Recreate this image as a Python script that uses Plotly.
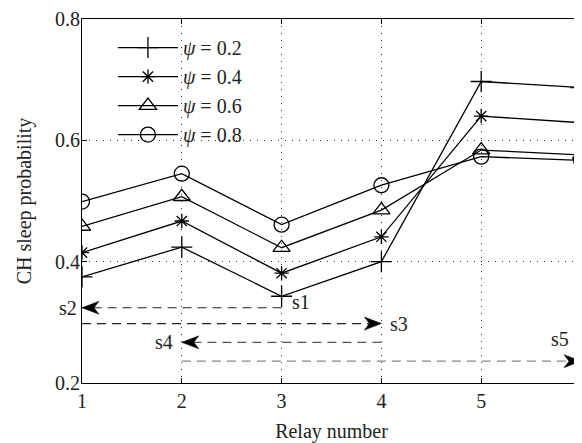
import plotly.graph_objects as go

relay = [1, 2, 3, 4, 5, 6]
psi_labels = ["0.2", "0.4", "0.6", "0.8"]
psi_02 = [0.375, 0.424, 0.343, 0.400, 0.697, 0.687]
psi_04 = [0.415, 0.467, 0.381, 0.441, 0.640, 0.629]
psi_06 = [0.458, 0.507, 0.423, 0.485, 0.584, 0.576]
psi_08 = [0.499, 0.545, 0.461, 0.526, 0.573, 0.567]
series = [psi_02, psi_04, psi_06, psi_08]
symbols = ["cross-thin-open", "asterisk-open", "triangle-up-open", "circle-open"]
sizes = [15, 12, 15, 15]

arrow_labels = ["s2", "s3", "s4", "s5"]
arrow_y = [0.324, 0.298, 0.267, 0.236]
arrow_from = [3, 1, 4, 2]
arrow_to = [1, 4, 2, 6]
arrow_colors = ["#222222", "#222222", "#555555", "#888888"]

FONT = "'Liberation Serif', 'Times New Roman', Times, serif"
fig = go.Figure()

for vals, lab, sym, sz in zip(series, psi_labels, symbols, sizes):
    fig.add_trace(go.Scatter(
        x=relay, y=vals, mode="lines+markers",
        name="<i>ψ</i> = " + lab,
        line=dict(color="black", width=1.3),
        marker=dict(symbol=sym, size=sz, color="black", line=dict(width=1.3, color="black")),
    ))

# arrowhead geometry in pixels (length, half-height, notch depth)
HEAD_L, HEAD_H, NOTCH = 17, 6.5, 5

shapes = []
for lab, y, x0, x1, c in zip(arrow_labels, arrow_y, arrow_from, arrow_to, arrow_colors):
    fig.add_trace(go.Scatter(
        x=[x0, x1], y=[y, y], mode="lines", showlegend=False, hoverinfo="skip",
        line=dict(color=c, width=1.2, dash="9px,6px"),
    ))
    d = 1 if x1 > x0 else -1  # +1: points right
    path = (f"M0,0 L{-d*HEAD_L},{HEAD_H} L{-d*(HEAD_L-NOTCH)},0 "
            f"L{-d*HEAD_L},{-HEAD_H} Z")
    shapes.append(dict(
        type="path", xref="x", yref="y", xsizemode="pixel", ysizemode="pixel",
        xanchor=x1, yanchor=y, path=path,
        fillcolor="black", line=dict(color="black", width=0.5), layer="above",
    ))

annotations = []
label_pos = {
    "s1": dict(x=3, y=0.334, xanchor="left", xshift=8),
    "s2": dict(x=1, y=arrow_y[0], xanchor="right", xshift=-3),
    "s3": dict(x=4, y=arrow_y[1], xanchor="left", xshift=7),
    "s4": dict(x=2, y=arrow_y[2], xanchor="right", xshift=-7),
    "s5": dict(x=6, y=0.273, xanchor="right", xshift=-10),
}
for t, p in label_pos.items():
    annotations.append(dict(text=t, xref="x", yref="y", showarrow=False,
                            yanchor="middle", font=dict(family=FONT, size=20, color="#222"), **p))

axis_common = dict(
    showline=True, linecolor="black", linewidth=1.2, mirror="ticks",
    ticks="inside", ticklen=5, tickcolor="black",
    showgrid=True, gridcolor="#333333", gridwidth=1, griddash="1px,6px",
    zeroline=False,
    tickfont=dict(family=FONT, size=20, color="#222"),
)
fig.update_xaxes(range=[1, 6], dtick=1, tick0=1,
                 title=dict(text="Relay number", font=dict(family=FONT, size=20, color="#222"), standoff=12),
                 **axis_common)
fig.update_yaxes(range=[0.2, 0.8], tickvals=[0.2, 0.4, 0.6, 0.8], ticktext=["0.2", "0.4", "0.6", "0.8"],
                 ticklabelstandoff=-3,
                 title=dict(text="CH sleep probability", font=dict(family=FONT, size=20, color="#222"), standoff=17),
                 **axis_common)

fig.update_layout(
    width=574, height=435,
    margin=dict(l=74, r=1, t=11, b=60, autoexpand=False),
    plot_bgcolor="white", paper_bgcolor="white",
    showlegend=True,
    legend=dict(x=0.062, y=0.975, xanchor="left", yanchor="top",
                font=dict(family=FONT, size=20, color="#222"),
                bgcolor="rgba(0,0,0,0)", itemwidth=60, tracegroupgap=0),
    annotations=annotations,
    shapes=shapes,
)

fig.write_html("out.html")
